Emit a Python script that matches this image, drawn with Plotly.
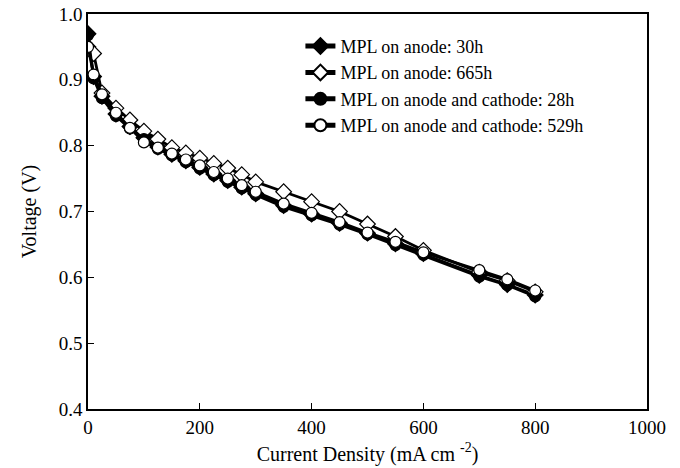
import plotly.graph_objects as go

current = [0, 10, 25, 50, 75, 100, 125, 150, 175, 200, 225, 250, 275, 300,
           350, 400, 450, 500, 550, 600, 700, 750, 800]

v_anode_30h = [0.970, 0.905, 0.875, 0.848, 0.829, 0.812, 0.798, 0.787, 0.777, 0.767, 0.757, 0.747,
               0.737, 0.727, 0.709, 0.696, 0.682, 0.667, 0.651, 0.636, 0.603, 0.589, 0.573]
v_anode_665h = [0.950, 0.940, 0.880, 0.857, 0.839, 0.822, 0.810, 0.797, 0.789, 0.781, 0.773, 0.766,
                0.756, 0.745, 0.730, 0.715, 0.700, 0.681, 0.662, 0.641, 0.608, 0.595, 0.578]
v_both_28h = [0.968, 0.902, 0.872, 0.845, 0.826, 0.810, 0.795, 0.785, 0.775, 0.765, 0.755, 0.745,
              0.735, 0.725, 0.707, 0.694, 0.680, 0.665, 0.649, 0.634, 0.601, 0.588, 0.571]
v_both_529h = [0.950, 0.908, 0.878, 0.850, 0.827, 0.805, 0.797, 0.788, 0.779, 0.770, 0.760, 0.750,
               0.740, 0.730, 0.712, 0.698, 0.684, 0.668, 0.654, 0.638, 0.611, 0.597, 0.580]

names = ["MPL on anode: 30h", "MPL on anode: 665h",
         "MPL on anode and cathode: 28h", "MPL on anode and cathode: 529h"]

FONT = "Liberation Serif, Times New Roman, serif"

fig = go.Figure()
styles = [
    (v_anode_30h, "diamond", "black", 12),
    (v_anode_665h, "diamond", "white", 12),
    (v_both_28h, "circle", "black", 11),
    (v_both_529h, "circle", "white", 11),
]
for (vals, sym, fill, sz), nm in zip(styles, names):
    fig.add_trace(go.Scatter(
        x=current, y=vals, name=nm, mode="lines+markers",
        line=dict(color="black", width=2.8),
        marker=dict(symbol=sym, size=sz, color=fill, line=dict(color="black", width=1.2)),
    ))

fig.update_layout(
    width=680, height=468,
    margin=dict(l=88, r=33, t=14, b=59),
    paper_bgcolor="white", plot_bgcolor="white",
    font=dict(family=FONT, size=18, color="black"),
    showlegend=True,
    legend=dict(x=0.38, y=0.965, xanchor="left", yanchor="top",
                bgcolor="rgba(0,0,0,0)", font=dict(family=FONT, size=18),
                itemwidth=30, tracegroupgap=0, itemsizing="constant"),
)
fig.update_xaxes(
    range=[0, 1000], tickvals=[0, 200, 400, 600, 800, 1000],
    ticks="inside", ticklen=6, tickcolor="black",
    showline=True, linecolor="black", linewidth=1.5, mirror=True,
    showgrid=False, zeroline=False, automargin=False,
    tickfont=dict(family=FONT, size=19),
    title=dict(text="Current Density (mA cm <sup>-2</sup>)", font=dict(family=FONT, size=20), standoff=10),
)
fig.update_yaxes(
    range=[0.4, 1.0], tickvals=[0.4, 0.5, 0.6, 0.7, 0.8, 0.9, 1.0],
    ticktext=["0.4", "0.5", "0.6", "0.7", "0.8", "0.9", "1.0"],
    ticks="inside", ticklen=6, tickcolor="black",
    showline=True, linecolor="black", linewidth=1.5, mirror=True,
    showgrid=False, zeroline=False, automargin=False,
    tickfont=dict(family=FONT, size=19),
    title=dict(text="Voltage (V)", font=dict(family=FONT, size=20), standoff=17),
)

fig.write_html("out.html", config={"displayModeBar": False},
               post_script="document.body.style.margin='0';")
